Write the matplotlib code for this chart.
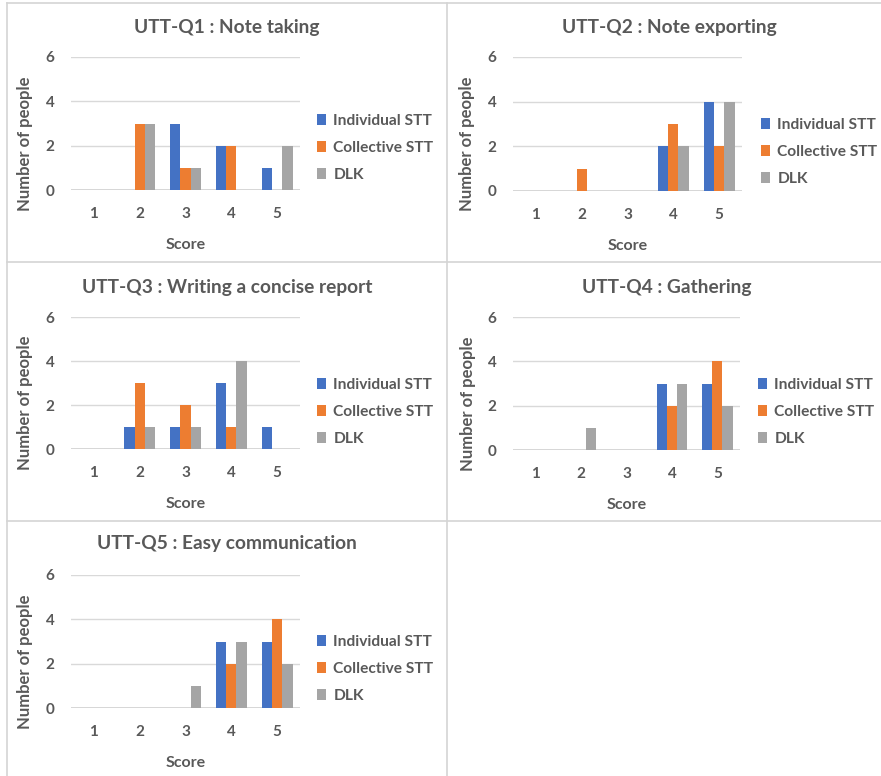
import matplotlib.pyplot as plt
from matplotlib.lines import Line2D
import numpy as np

plt.rcParams['font.family'] = ['Lato', 'DejaVu Sans']

# data
scores = [1, 2, 3, 4, 5]
series = ['Individual STT', 'Collective STT', 'DLK']
colors = ['#4472C4', '#ED7D31', '#A5A5A5']
titles = ['UTT-Q1 : Note taking', 'UTT-Q2 : Note exporting',
          'UTT-Q3 : Writing a concise report', 'UTT-Q4 : Gathering',
          'UTT-Q5 : Easy communication']

q1 = [[0, 0, 3, 2, 1], [0, 3, 1, 2, 0], [0, 3, 1, 0, 2]]
q2 = [[0, 0, 0, 2, 4], [0, 1, 0, 3, 2], [0, 0, 0, 2, 4]]
q3 = [[0, 1, 1, 3, 1], [0, 3, 2, 1, 0], [0, 1, 1, 4, 0]]
q4 = [[0, 0, 0, 3, 3], [0, 0, 0, 2, 4], [0, 1, 0, 3, 2]]
q5 = [[0, 0, 0, 3, 3], [0, 0, 0, 2, 4], [0, 0, 1, 3, 2]]
panels = [q1, q2, q3, q4, q5]

W, H = 881, 776
fig = plt.figure(figsize=(W / 100, H / 100), dpi=100)
TXT = '#595959'

def fx(x):
    return x / W

def fy(y):
    return 1 - y / H

# table lines (pixels)
line_col = '#D4D4D4'
for x0, y0, x1, y1 in [(7, 3, 881, 3), (7, 262, 881, 262), (7, 521, 881, 521),
                       (7, 3, 7, 776), (447, 3, 447, 776)]:
    fig.add_artist(Line2D([fx(x0), fx(x1)], [fy(y0), fy(y1)], color=line_col, lw=1.2))

# axes boxes in pixels: left, right, top(y=6), bottom(y=0), title y, legend x, legend center y
boxes = [
    (71, 300, 57, 190, 27, 317, 148),
    (513, 742, 57, 191, 27, 761, 152),
    (71, 300, 317, 449, 287, 317, 412),
    (513, 740, 317, 450, 287, 758, 412),
    (71, 300, 575, 708, 544, 317, 669),
]
cell_cx = [227, 669, 227, 667, 227]

x = np.arange(len(scores))
bw = 0.225
for i, data in enumerate(panels):
    l, r, t, b, ty, lx, ly = boxes[i]
    ax = fig.add_axes([fx(l), fy(b), fx(r - l), (b - t) / H])
    for j, name in enumerate(series):
        ax.bar(x + 1 + (j - 1) * bw, data[j], width=bw, color=colors[j], label=name, zorder=3)
    ax.set_xlim(0.5, 5.5)
    ax.set_ylim(0, 6)
    ax.set_yticks([0, 2, 4, 6])
    ax.set_xticks(scores)
    ax.grid(axis='y', color='#D9D9D9', lw=1, zorder=0)
    ax.axhline(0, color='#D0D0D0', lw=1.2, zorder=1)
    for s in ax.spines.values():
        s.set_visible(False)
    ax.tick_params(length=0, labelsize=11, labelcolor=TXT, pad=12)
    for lab in ax.get_xticklabels() + ax.get_yticklabels():
        lab.set_fontweight('bold')
    ax.set_xlabel('Score', fontsize=11.5, color=TXT, fontweight='bold')
    ax.set_ylabel('Number of people', fontsize=12, color=TXT, fontweight='bold')
    ax.xaxis.set_label_coords(0.5, -0.36)
    ax.yaxis.set_label_coords(-0.165, 0.35)
    fig.text(fx(cell_cx[i]), fy(ty), titles[i], ha='center', va='center',
             fontsize=13.8, color=TXT, fontweight='bold')
    fig.legend(*ax.get_legend_handles_labels(), loc='center left',
               bbox_to_anchor=(fx(lx), fy(ly)), frameon=False,
               prop={'size': 11.2, 'weight': 'bold'}, labelcolor=TXT,
               handlelength=0.6, handleheight=0.7, handletextpad=0.45,
               labelspacing=0.85, borderpad=0, borderaxespad=0)

fig.savefig('out.png', dpi=100, facecolor='white')
